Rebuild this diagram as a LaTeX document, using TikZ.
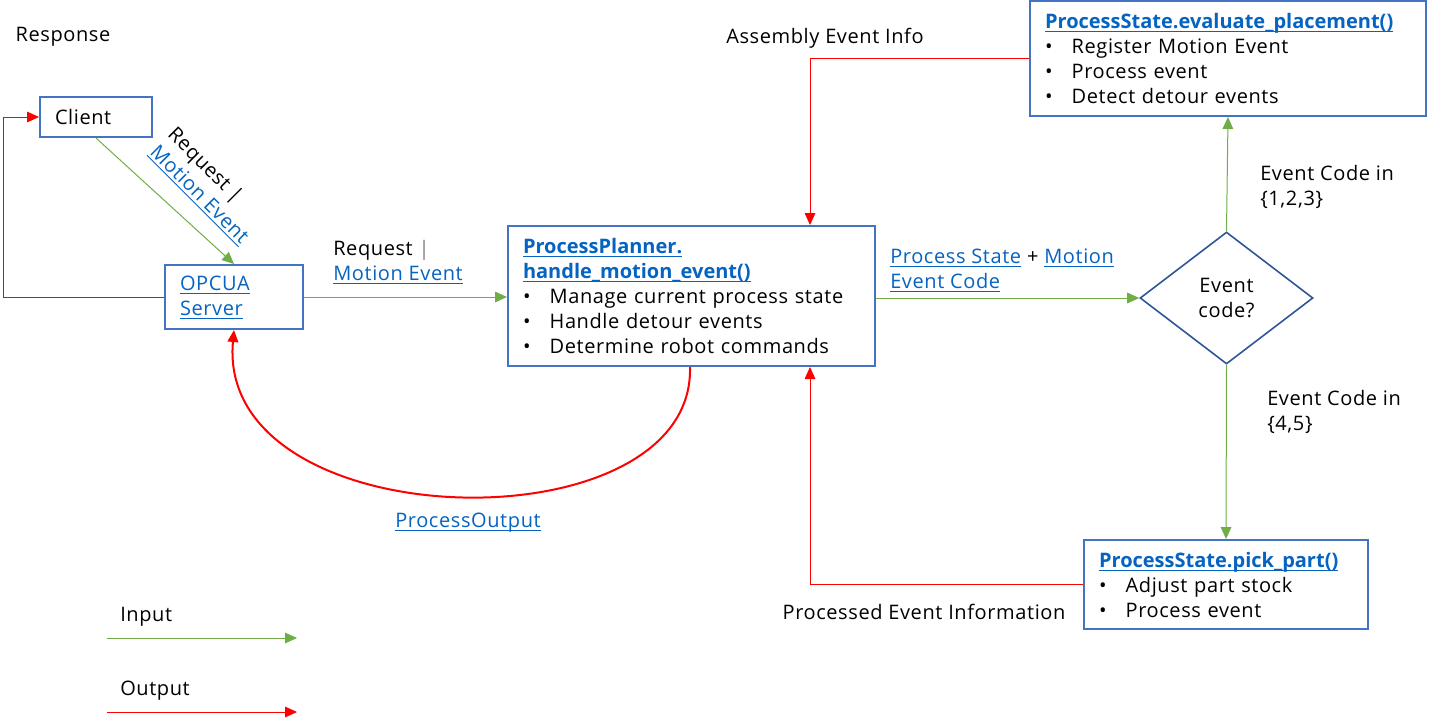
\documentclass[tikz,border=0pt]{standalone}
\usepackage{fontspec}
\setmainfont{Open Sans}[LetterSpace=3, BoldFeatures={LetterSpace=0}]
\usetikzlibrary{arrows.meta, shapes.geometric, positioning}
\definecolor{boxBlue}{HTML}{4472C4}
\definecolor{decBlue}{HTML}{2F5597}
\definecolor{inGreen}{HTML}{70AD47}
\definecolor{outRed}{HTML}{FF0000}
\definecolor{linkBlue}{HTML}{0563C1}
\newcommand{\lnk}[1]{\textcolor{linkBlue}{\setbox0\hbox{#1}%
  \rlap{\rule[-2.6pt]{\wd0}{0.7pt}}\box0}}
\newcommand{\itm}[1]{\makebox[20pt][l]{\textbullet}#1}
\tikzset{
  lbl/.style      = {font=\fontsize{15}{18.75}\selectfont, inner sep=0pt},
  procbox/.style  = {lbl, draw=boxBlue, line width=1.5pt, align=left,
                     inner xsep=11.25pt, inner ysep=0pt},
  decbox/.style   = {lbl, diamond, draw=decBlue, line width=1.2pt, align=center,
                     minimum width=129.75pt, minimum height=99pt},
  inarrow/.style  = {-{Triangle[length=9pt, width=8pt]}, inGreen, line width=0.75pt},
  outarrow/.style = {-{Triangle[length=9pt, width=8pt]}, outRed, line width=0.75pt},
}

\begin{document}
\begin{tikzpicture}[x=0.75pt, y=-0.75pt]
  \useasboundingbox (0,0) rectangle (1438,726);

  \node[lbl] (resp) at (63,37) {Response};
  \node[procbox, text width=61.5pt, minimum height=30pt] (client) at (96,117) {Client};
  \node[procbox, text width=81pt, minimum height=48pt] (opcua) at (234,297)
    {\lnk{OPCUA}\\\lnk{Server}};
  \node[procbox, text width=252.75pt, minimum height=105pt] (planner) at (691.5,296)
    {\lnk{\textbf{ProcessPlanner.}}\\\lnk{\textbf{handle\_motion\_event()}}\\
     \itm{Manage current process state}\\\itm{Handle detour events}\\
     \itm{Determine robot commands}};
  \node[procbox, text width=274.5pt, minimum height=86.25pt] (evalbox) at (1228,58.5)
    {\lnk{\textbf{ProcessState.evaluate\_placement()}}\\\itm{Register Motion Event}\\
     \itm{Process event}\\\itm{Detect detour events}};
  \node[procbox, text width=190.5pt, minimum height=66.75pt] (pickbox) at (1226,584.5)
    {\lnk{\textbf{ProcessState.pick\_part()}}\\\itm{Adjust part stock}\\
     \itm{Process event}};
  \node[decbox] (decision) at (1226.5,298) {Event\\code?};

  % input / request flow
  \draw[inarrow] (client.south) -- (opcua.north);
  \node[lbl, rotate=-45, align=left] (reqrot) at (208,186) {Request |\\\lnk{Motion Event}};
  \draw[inarrow] (opcua.east) -- (planner.west |- opcua.east);
  \node[lbl, align=left, anchor=west] (reqlbl) at (333,262.5)
    {Request \textcolor{gray}{|}\\\lnk{Motion Event}};
  \draw[inarrow] (planner.east |- decision.west) -- (decision.west);
  \node[lbl, align=left, anchor=west] (statelbl) at (890,270.5)
    {\lnk{Process State} + \lnk{Motion}\\\lnk{Event Code}};
  \draw[inarrow] (decision.north) -- (evalbox.south);
  \node[lbl, align=left, anchor=west] (codeup) at (1260,187) {Event Code in\\\{1,2,3\}};
  \draw[inarrow] (decision.south) -- (pickbox.north);
  \node[lbl, align=left, anchor=west] (codedown) at (1267,411.5) {Event Code in\\\{4,5\}};

  % output flow
  \coordinate (fb) at (810,0);
  \draw[outarrow] (opcua.west) -- ++(-161,0) |- (client.west);
  \draw[outarrow, line width=1.5pt] (planner.south -| 690,0)
    .. controls (695,550) and (215,540) .. (opcua.south);
  \node[lbl] (outlbl) at (468,523) {\lnk{ProcessOutput}};
  \draw[outarrow] (evalbox.west) -| (fb |- planner.north);
  \node[lbl] (asmlbl) at (825,38) {Assembly Event Info};
  \draw[outarrow] (pickbox.west) -| (fb |- planner.south);
  \node[lbl] (pevlbl) at (924,612) {Processed Event Information};

  % legend
  \coordinate (inA) at (107,638); \coordinate (inB) at (297,638);
  \coordinate (outA) at (107,712); \coordinate (outB) at (297,712);
  \draw[inarrow] (inA) -- (inB);
  \draw[outarrow] (outA) -- (outB);
  \node[lbl, anchor=west] (inlbl) at (120,617) {Input};
  \node[lbl, anchor=west] (outlbl2) at (120,691) {Output};
\end{tikzpicture}
\end{document}
